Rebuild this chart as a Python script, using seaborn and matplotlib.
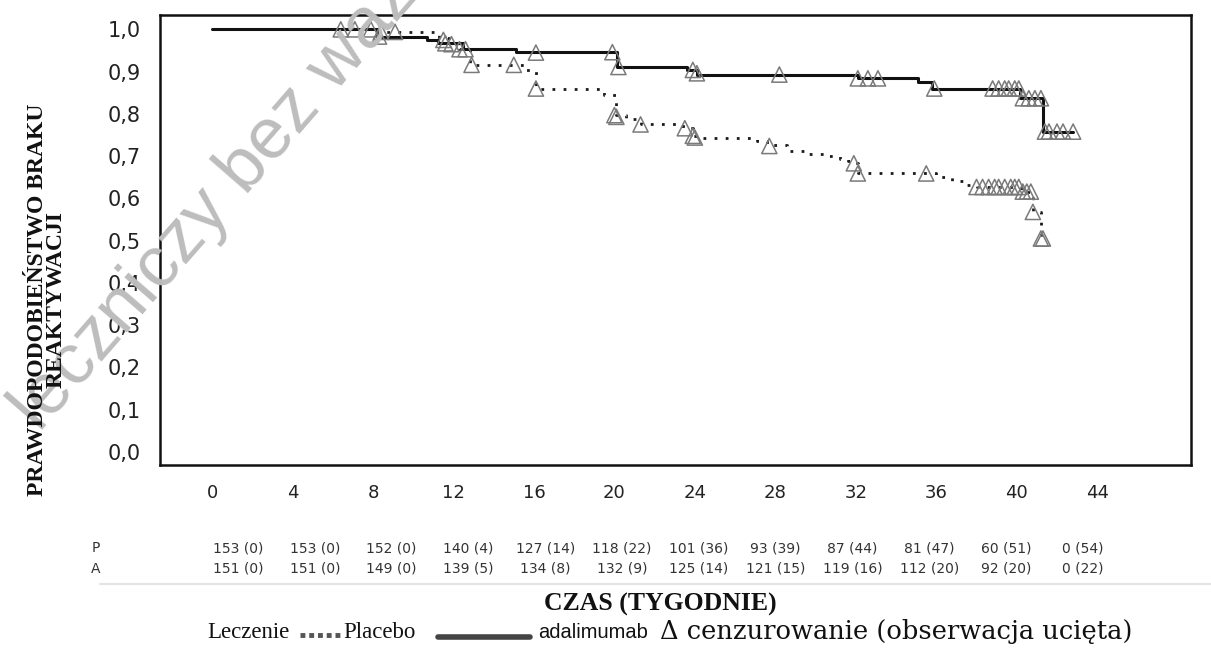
import numpy as np
import pandas as pd
import seaborn as sns
import matplotlib.pyplot as plt
from matplotlib.lines import Line2D

# Kaplan-Meier curves (weeks, survival after the step)
placebo_t = [0, 8.0, 11.3, 11.8, 12.3, 12.8, 15.6, 16.1, 19.5, 20.1, 20.6, 21.3, 23.4,
             23.9, 24.2, 27.1, 27.6, 28.6, 29.6, 30.6, 31.2, 31.6, 31.9, 32.1, 36.0,
             36.8, 37.5, 38.0, 40.2, 40.8, 41.2, 41.3]
placebo_s = [1.0, 0.994, 0.98, 0.967, 0.953, 0.916, 0.905, 0.86, 0.845, 0.797, 0.789, 0.775, 0.766,
             0.748, 0.742, 0.735, 0.726, 0.712, 0.706, 0.700, 0.694, 0.688, 0.683, 0.659, 0.650,
             0.640, 0.632, 0.627, 0.616, 0.568, 0.505, 0.505]

ada_t = [0, 8.2, 10.67, 11.23, 12.48, 15.11, 20.11, 23.59, 24.09, 32.11, 35.09, 35.79,
         40.16, 41.30, 42.8]
ada_s = [1.0, 0.983, 0.974, 0.967, 0.953, 0.946, 0.911, 0.904, 0.893, 0.884, 0.876, 0.860,
         0.837, 0.758, 0.758]

# censored observations
pla_cens_t = [6.4, 7.1, 7.9, 8.4, 9.1, 11.5, 11.9, 12.3, 12.9, 15.0, 16.1, 20.0, 20.1, 21.3,
              23.5, 23.9, 24.0, 27.7, 31.9, 32.1, 35.5,
              38.0, 38.3, 38.6, 38.9, 39.1, 39.4, 39.7, 39.9, 40.1,
              40.3, 40.5, 40.7, 40.8, 41.2, 41.3]
pla_cens_s = [1.0, 1.0, 1.0, 0.994, 0.994, 0.975, 0.965, 0.953, 0.916, 0.916, 0.86, 0.797, 0.793, 0.775,
              0.766, 0.748, 0.744, 0.724, 0.683, 0.659, 0.659,
              0.627, 0.627, 0.627, 0.627, 0.627, 0.627, 0.627, 0.627, 0.627,
              0.616, 0.616, 0.616, 0.568, 0.505, 0.505]

ada_cens_t = [8.3, 11.6, 12.6, 16.1, 19.9, 20.2, 23.9, 24.1, 28.2, 32.1, 32.6, 33.1, 35.9,
              38.8, 39.1, 39.4, 39.6, 39.9, 40.1,
              40.3, 40.6, 40.9, 41.2,
              41.4, 41.6, 42.0, 42.3, 42.8]
ada_cens_s = [0.983, 0.967, 0.953, 0.945, 0.946, 0.911, 0.904, 0.896, 0.893, 0.884, 0.884, 0.884, 0.860,
              0.86, 0.86, 0.86, 0.86, 0.86, 0.86,
              0.837, 0.837, 0.837, 0.837,
              0.758, 0.758, 0.758, 0.758, 0.758]

# number at risk (censored)
risk_p = ["153 (0)", "153 (0)", "152 (0)", "140 (4)", "127 (14)", "118 (22)",
          "101 (36)", "93 (39)", "87 (44)", "81 (47)", "60 (51)", "0 (54)"]
risk_a = ["151 (0)", "151 (0)", "149 (0)", "139 (5)", "134 (8)", "132 (9)",
          "125 (14)", "121 (15)", "119 (16)", "112 (20)", "92 (20)", "0 (22)"]

x_ticks = list(range(0, 45, 4))
y_ticks = [i / 10 for i in range(11)]
y_labels = [f"{v:.1f}".replace(".", ",") for v in y_ticks]

sns.set_style("white")
plt.rcParams['font.family'] = ['DejaVu Sans']

W, H = 1211, 652
fig = plt.figure(figsize=(W / 100, H / 100), dpi=100)

# watermark behind everything
fig.text(268 / W, 1 - 142 / H, "leczniczy bez ważnego", rotation=49, rotation_mode="anchor",
         ha="center", va="center", fontsize=52, family="Liberation Sans",
         color="#bdbdbd", zorder=0)

ax = fig.add_axes([160 / W, 1 - 465 / H, (1191 - 160) / W, (465 - 15) / H])
ax.patch.set_alpha(0)

pla = pd.DataFrame({"t": placebo_t, "s": placebo_s})
ada = pd.DataFrame({"t": ada_t, "s": ada_s})
sns.lineplot(data=pla, x="t", y="s", ax=ax, estimator=None, sort=False,
             drawstyle="steps-post", color="#1a1a1a", lw=2.0, linestyle=(0, (1, 3)))
sns.lineplot(data=ada, x="t", y="s", ax=ax, estimator=None, sort=False,
             drawstyle="steps-post", color="#111111", lw=2.2)

sns.scatterplot(x=pla_cens_t, y=pla_cens_s, ax=ax, marker="^", s=120,
                facecolor="none", edgecolor="#7a7a7a", linewidth=1.1, zorder=4)
sns.scatterplot(x=ada_cens_t, y=ada_cens_s, ax=ax, marker="^", s=120,
                facecolor="none", edgecolor="#7a7a7a", linewidth=1.1, zorder=4)

ax.set_xlim(-2.585, 48.66)
ax.set_ylim(-0.031, 1.034)
ax.set_xticks(x_ticks)
ax.set_xticklabels([str(v) for v in x_ticks], fontsize=13, color="#222")
ax.set_yticks(y_ticks)
ax.set_yticklabels(y_labels, fontsize=15, color="#222")
ax.tick_params(axis="both", direction="out", length=7, width=1.5, color="#222", pad=7)
ax.set_xlabel("")
ax.set_ylabel("")
for sp in ax.spines.values():
    sp.set_visible(True)
    sp.set_color("#111")
    sp.set_linewidth(1.8)

# y axis title
fig.text(47 / W, 1 - 300 / H, "PRAWDOPODOBIEŃSTWO BRAKU\nREAKTYWACJI", rotation=90,
         ha="center", va="center", multialignment="center", fontsize=17,
         fontweight="bold", family="Liberation Serif", linespacing=0.85, color="#111")

# number at risk table
fig.text(96 / W, 1 - 548 / H, "P", fontsize=10, ha="center", va="center", color="#333")
fig.text(96 / W, 1 - 569 / H, "A", fontsize=10, ha="center", va="center", color="#333")
for i in range(len(risk_p)):
    xp = (238 + i * 76.8) / W
    fig.text(xp, 1 - 548 / H, risk_p[i], fontsize=10, ha="center", va="center", color="#333")
    fig.text(xp, 1 - 569 / H, risk_a[i], fontsize=10, ha="center", va="center", color="#333")
fig.add_artist(Line2D([100 / W, 1], [1 - 584 / H] * 2, color="#e3e3e3", lw=1.5))

fig.text(660 / W, 1 - 604 / H, "CZAS (TYGODNIE)", ha="center", va="center", fontsize=18.5,
         fontweight="bold", family="Liberation Serif", color="#111")

# legend row
ly = 1 - 632 / H
fig.text(207 / W, ly, "Leczenie", ha="left", va="center", fontsize=16.5,
         family="Liberation Serif", color="#111")
fig.add_artist(Line2D([300 / W, 340 / W], [ly - 0.005] * 2, color="#555", lw=3.5,
                      linestyle=(0, (1, 0.8))))
fig.text(343 / W, ly, "Placebo", ha="left", va="center", fontsize=16.5,
         family="Liberation Serif", color="#111")
fig.add_artist(Line2D([438 / W, 530 / W], [ly - 0.007] * 2, color="#444", lw=4))
fig.text(538 / W, ly, "adalimumab", ha="left", va="center", fontsize=14.5,
         family="Liberation Sans", color="#111")
fig.text(660 / W, ly, "Δ cenzurowanie (obserwacja ucięta)", ha="left", va="center",
         fontsize=18.5, family="DejaVu Serif", color="#111")

fig.savefig("out.png", dpi=100)
